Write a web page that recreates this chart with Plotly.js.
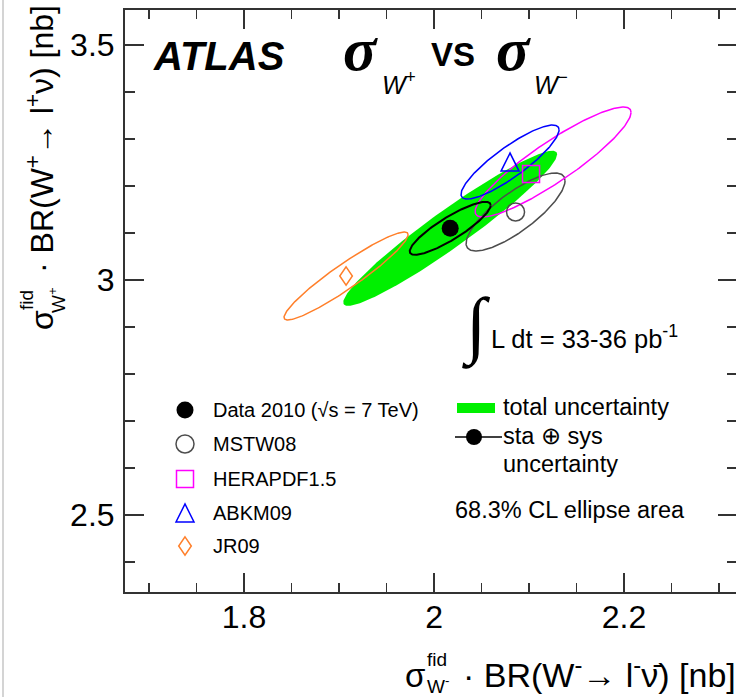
<!DOCTYPE html>
<html>
<head>
<meta charset="utf-8">
<script src="https://cdn.plot.ly/plotly-3.0.1.min.js"></script>
<style>
  html, body { margin: 0; padding: 0; overflow: hidden; background: #fff; }
  #chart { width: 740px; height: 697px; }
</style>
</head>
<body>
<div id="chart"></div>
<script>
// ---- measured fiducial cross sections (nb): W- on x, W+ on y ----
const dataPoint = [2.017, 3.110];
// 68.3% CL ellipses as [half extent in x, half extent in y, correlation]
const totalUnc = [0.1126, 0.165, 0.955];
const staSysUnc = [0.0426, 0.0564, 0.87];

// ---- NNLO predictions for several PDF sets ----
const pdfNames    = ['MSTW08', 'HERAPDF1.5', 'ABKM09', 'JR09'];
const pdfPointX   = [2.0858, 2.1021, 2.080, 1.9074];
const pdfPointY   = [3.1447, 3.2255, 3.251, 3.0085];
const pdfCentreX  = [2.0858, 2.1253, 2.080, 1.9074];
const pdfCentreY  = [3.1447, 3.2511, 3.251, 3.0085];
const pdfHalfX    = [0.0521, 0.0821, 0.0516, 0.0653];
const pdfHalfY    = [0.083, 0.117, 0.0787, 0.0936];
const pdfRho      = [0.80, 0.90, 0.87, 0.94];

const legendLabels = ['Data 2010 (√s = 7 TeV)', 'MSTW08', 'HERAPDF1.5', 'ABKM09', 'JR09'];

// ---- styling ----
const SANS = 'Liberation Sans, Arial, Helvetica, sans-serif';
const SERIF = 'Liberation Serif, Times New Roman, serif';
const pdfColors = ['#4d4d4d', '#ff00ff', '#0000ff', '#ff7f2a'];
const GREEN = '#00f000';
const AXIS = '#333333';

// plot-area geometry in page pixels (used for text placement)
const L = 125, T = 10, W = 612, H = 582;
const px = v => (v - L) / W;
const py = v => (T + H - v) / H;

// ellipse through parametric form x = cx + a cos t, y = cy + b cos(t - acos(rho))
function ellipse(cx, cy, a, b, rho) {
  const d = Math.acos(rho), xs = [], ys = [];
  const n = 240;
  for (let i = 0; i <= n; i++) {
    const t = 2 * Math.PI * i / n;
    xs.push(cx + a * Math.cos(t));
    ys.push(cy + b * Math.cos(t - d));
  }
  return { xs, ys };
}

const traces = [];

// total uncertainty (filled)
const et = ellipse(dataPoint[0], dataPoint[1], totalUnc[0], totalUnc[1], totalUnc[2]);
traces.push({
  x: et.xs, y: et.ys, type: 'scatter', mode: 'lines', fill: 'toself',
  fillcolor: GREEN, line: { width: 0, color: GREEN }, hoverinfo: 'skip', showlegend: false
});

// PDF prediction ellipses
for (let i = 0; i < pdfNames.length; i++) {
  const e = ellipse(pdfCentreX[i], pdfCentreY[i], pdfHalfX[i], pdfHalfY[i], pdfRho[i]);
  traces.push({
    x: e.xs, y: e.ys, type: 'scatter', mode: 'lines', name: pdfNames[i],
    line: { color: pdfColors[i], width: 1.5 }, hoverinfo: 'skip', showlegend: false
  });
}

// stat + sys ellipse
const es = ellipse(dataPoint[0], dataPoint[1], staSysUnc[0], staSysUnc[1], staSysUnc[2]);
traces.push({
  x: es.xs, y: es.ys, type: 'scatter', mode: 'lines',
  line: { color: '#000', width: 2 }, hoverinfo: 'skip', showlegend: false
});

// PDF central values drawn with markers (circle, square)
traces.push({
  x: [pdfPointX[0]], y: [pdfPointY[0]], type: 'scatter', mode: 'markers',
  marker: { symbol: 'circle-open', size: 18, color: pdfColors[0], line: { width: 1.5 } },
  hoverinfo: 'skip', showlegend: false
});
traces.push({
  x: [pdfPointX[1]], y: [pdfPointY[1]], type: 'scatter', mode: 'markers',
  marker: { symbol: 'square-open', size: 17, color: pdfColors[1], line: { width: 1.5 } },
  hoverinfo: 'skip', showlegend: false
});

// measurement
traces.push({
  x: [dataPoint[0]], y: [dataPoint[1]], type: 'scatter', mode: 'markers',
  marker: { symbol: 'circle', size: 17, color: '#000' }, hoverinfo: 'skip', showlegend: false
});

// ---- key (drawn on an overlay 0..1 axis pair) ----
const keyX = px(185);
const keyRows = [410, 444, 479, 513, 546].map(py);
traces.push({
  x: [keyX], y: [keyRows[0]], xaxis: 'x2', yaxis: 'y2', type: 'scatter', mode: 'markers',
  marker: { symbol: 'circle', size: 17, color: '#000' }, hoverinfo: 'skip', showlegend: false
});
traces.push({
  x: [keyX], y: [keyRows[1]], xaxis: 'x2', yaxis: 'y2', type: 'scatter', mode: 'markers',
  marker: { symbol: 'circle-open', size: 18, color: pdfColors[0], line: { width: 1.5 } },
  hoverinfo: 'skip', showlegend: false
});
traces.push({
  x: [keyX], y: [keyRows[2]], xaxis: 'x2', yaxis: 'y2', type: 'scatter', mode: 'markers',
  marker: { symbol: 'square-open', size: 17, color: pdfColors[1], line: { width: 1.5 } },
  hoverinfo: 'skip', showlegend: false
});
// sta (+) sys key: line with dot
traces.push({
  x: [px(455), px(502)], y: [py(437), py(437)], xaxis: 'x2', yaxis: 'y2', type: 'scatter', mode: 'lines',
  line: { color: '#000', width: 1.5 }, hoverinfo: 'skip', showlegend: false
});
traces.push({
  x: [px(474)], y: [py(437)], xaxis: 'x2', yaxis: 'y2', type: 'scatter', mode: 'markers',
  marker: { symbol: 'circle', size: 16, color: '#000' }, hoverinfo: 'skip', showlegend: false
});

// triangle and diamond glyphs as pixel-sized shapes anchored at their points
const triPath = 'M-9,-9 L9,-9 L0,9 Z';
const diaPath = 'M0,9.2 L6.3,0 L0,-9.2 L-6.3,0 Z';
function glyph(path, color, xref, yref, xa, ya) {
  return {
    type: 'path', path, xref, yref, xsizemode: 'pixel', ysizemode: 'pixel',
    xanchor: xa, yanchor: ya, line: { color, width: 1.5 }, fillcolor: 'rgba(0,0,0,0)', layer: 'above'
  };
}
const shapes = [
  glyph(triPath, pdfColors[2], 'x', 'y', pdfPointX[2], pdfPointY[2]),
  glyph(diaPath, pdfColors[3], 'x', 'y', pdfPointX[3], pdfPointY[3]),
  glyph(triPath, pdfColors[2], 'paper', 'paper', keyX, keyRows[3]),
  glyph(diaPath, pdfColors[3], 'paper', 'paper', keyX, keyRows[4]),
  // total-uncertainty key box
  { type: 'rect', xref: 'paper', yref: 'paper', x0: px(457), x1: px(495), y0: py(413), y1: py(403),
    fillcolor: GREEN, line: { width: 0 } },
  // thin page border on the left
  { type: 'line', xref: 'paper', yref: 'paper', x0: px(3), x1: px(3), y0: py(0), y1: py(697),
    line: { color: '#d4d4d4', width: 2 } }
];

function txt(text, x, y, size, extra) {
  return Object.assign({
    text, x: px(x), y: py(y), xref: 'paper', yref: 'paper', showarrow: false,
    xanchor: 'left', yanchor: 'middle', font: { family: SANS, size, color: '#000' }
  }, extra || {});
}
const sigmaFont = { family: SERIF, size: 62, color: '#000' };

const annotations = [
  // heading
  txt('<b><i>ATLAS</i></b>', 151, 56, 40),
  txt('<b><i>σ</i></b>', 341, 49, 62, { font: sigmaFont }),
  txt('<i>W</i><sup>+</sup>', 380, 83, 25),
  txt('<b>VS</b>', 429, 55, 33),
  txt('<b><i>σ</i></b>', 494, 49, 62, { font: sigmaFont }),
  txt('<i>W</i><sup>−</sup>', 532, 83, 25),

  // luminosity
  txt('∫', 460, 326, 74, { font: { family: SERIF, size: 74, color: '#000' } }),
  txt('L dt = 33-36 pb<sup>-1</sup>', 489, 337, 25.5),

  // key texts
  ...legendLabels.map((s, i) => txt(s, 211, [410, 444, 479, 513, 546][i], 20)),
  txt('total uncertainty', 501, 407, 23.5),
  txt('sta ⊕ sys', 501, 436, 23.5),
  txt('uncertainty', 501, 464, 23.5),
  txt('68.3% CL ellipse area', 453, 510, 23.5),

  // x-axis title
  txt('σ', 403, 675, 33),
  txt('fid', 425, 659, 19),
  txt('W<sup>-</sup>', 425, 685, 19),
  txt('· BR(W<sup>-</sup>→ l<sup>-</sup>ν̄) [nb]', 738, 672, 34, { xanchor: 'right' }),

  // y-axis title (rotated)
  txt('· BR(W<sup>+</sup>→ l<sup>+</sup>ν) [nb]', 40, 3, 32, { xanchor: 'center', yanchor: 'top', textangle: -90 }),
  txt('σ', 42, 320, 32, { xanchor: 'center', textangle: -90 }),
  txt('fid', 26, 300, 19, { xanchor: 'center', textangle: -90 }),
  txt('W<sup>+</sup>', 57, 300, 19, { xanchor: 'center', textangle: -90 })
];

const tickCommon = {
  ticks: 'inside', ticklen: 19, tickwidth: 1.5, tickcolor: AXIS,
  showline: true, linewidth: 2, linecolor: AXIS, mirror: 'ticks',
  showgrid: false, zeroline: false, fixedrange: true,
  tickfont: { family: SANS, size: 32, color: '#000' }
};

const layout = {
  width: 740, height: 697,
  margin: { l: 125, r: 3, t: 10, b: 105 },
  paper_bgcolor: '#fff', plot_bgcolor: '#fff',
  showlegend: false,
  xaxis: Object.assign({}, tickCommon, {
    range: [1.6747, 2.3189], tick0: 0, dtick: 0.2, ticklabelstandoff: -4,
    minor: { tick0: 0, dtick: 0.05, ticks: 'inside', ticklen: 9, tickwidth: 1.5, tickcolor: AXIS, showgrid: false }
  }),
  yaxis: Object.assign({}, tickCommon, {
    range: [2.3362, 3.5745], tick0: 0, dtick: 0.5, ticklabelstandoff: 2,
    minor: { tick0: 0, dtick: 0.1, ticks: 'inside', ticklen: 10, tickwidth: 1.5, tickcolor: AXIS, showgrid: false }
  }),
  xaxis2: { overlaying: 'x', anchor: 'y2', range: [0, 1], visible: false, fixedrange: true },
  yaxis2: { overlaying: 'y', anchor: 'x2', range: [0, 1], visible: false, fixedrange: true },
  shapes, annotations
};

Plotly.newPlot('chart', traces, layout, { staticPlot: true, displayModeBar: false });
</script>
</body>
</html>
